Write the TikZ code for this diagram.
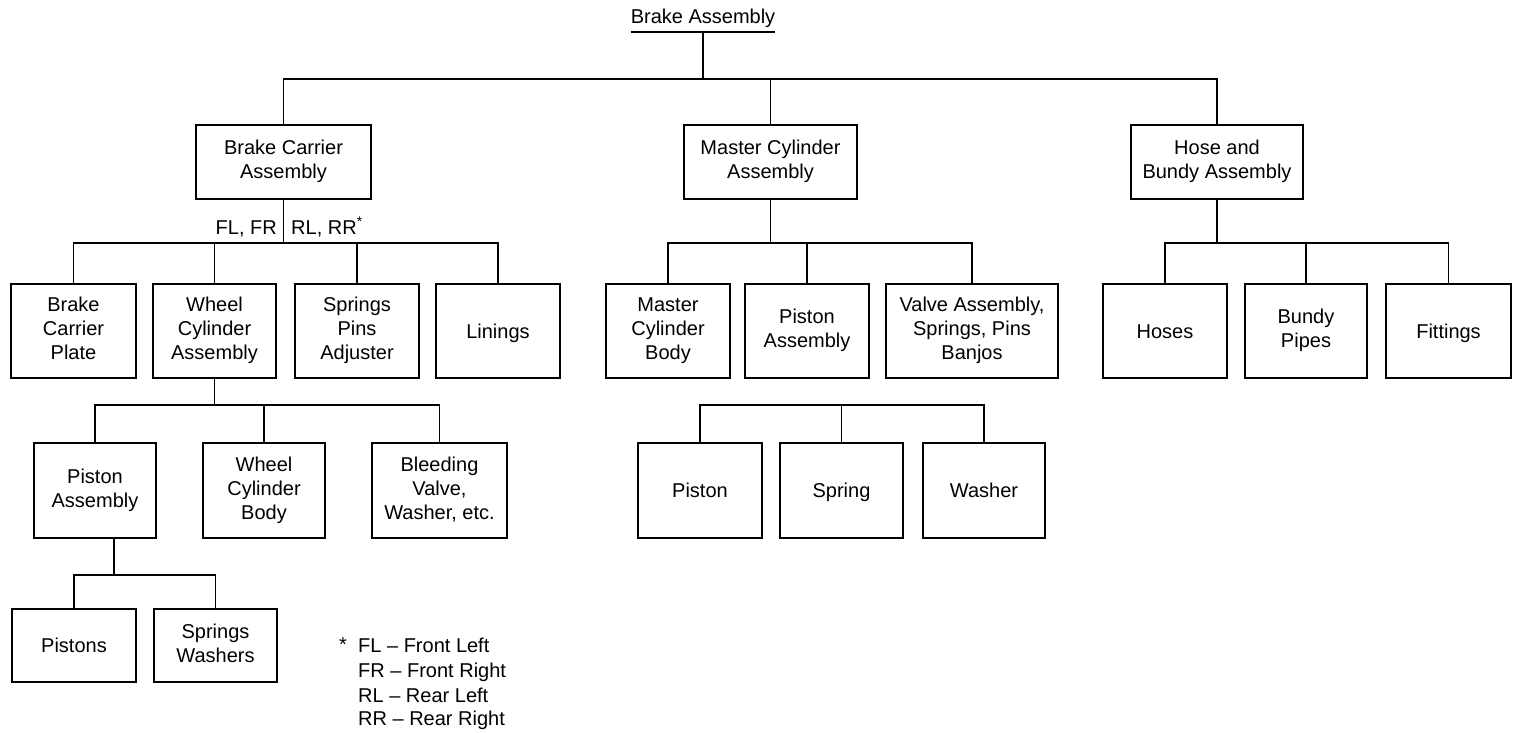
\documentclass[tikz,border=0pt]{standalone}
\usepackage{fontspec}
\setmainfont{Liberation Sans}
% invisible strut centred on the capital height, so all box texts sit alike
\newcommand\partstrut{\rule[-4.6pt]{0pt}{23.6pt}}
\begin{document}
\begin{tikzpicture}[x=1pt,y=-1pt,
  every node/.style={font=\fontsize{20}{24}\selectfont},
  part/.style={draw, line width=2pt, align=center, inner sep=0pt,
    execute at begin node=\partstrut, execute at end node=\partstrut},
  bw/.style={minimum width=#1pt},
  lvA/.style={part, minimum height=74pt},
  lvB/.style={part, minimum height=94pt},
  lvC/.style={part, minimum height=95pt},
  lvD/.style={part, minimum height=73pt},
  conn/.style={line width=1.5pt},
  lbl/.style={inner sep=0pt}]
\useasboundingbox (0,0) rectangle (1519,733);

% bus levels
\coordinate (ul)   at (0,32);
\coordinate (bus0) at (0,79);
\coordinate (bus1) at (0,243);
\coordinate (bus2) at (0,405);
\coordinate (bus3) at (0,575);

% root
\node[lbl, anchor=base] (title) at (703,24) {Brake Assembly};

% first level
\node[lvA, bw=175] (bca) at (283.5,162) {Brake Carrier\\Assembly};
\node[lvA, bw=173] (mca) at (770.5,162) {Master Cylinder\\Assembly};
\node[lvA, bw=172] (hba) at (1217,162)  {Hose and\\Bundy Assembly};

% second level
\node[lvB, bw=125] (bcp) at (73.5,331)  {Brake\\Carrier\\Plate};
\node[lvB, bw=123] (wca) at (214.5,331) {Wheel\\Cylinder\\Assembly};
\node[lvB, bw=124] (spa) at (357,331)   {Springs\\Pins\\Adjuster};
\node[lvB, bw=124] (lin) at (498,331)   {Linings};
\node[lvB, bw=124] (mcb) at (668,331)   {Master\\Cylinder\\Body};
\node[lvB, bw=124] (mpa) at (807,331)   {Piston\\Assembly};
\node[lvB, bw=172] (vas) at (972,331)   {Valve Assembly,\\Springs, Pins\\Banjos};
\node[lvB, bw=124] (hos) at (1165,331)  {Hoses};
\node[lvB, bw=122] (bun) at (1306,331)  {Bundy\\Pipes};
\node[lvB, bw=125] (fit) at (1448.5,331){Fittings};

% third level
\node[lvC, bw=122] (wpa) at (95,490.5)    {Piston\\Assembly};
\node[lvC, bw=122] (wcb) at (264,490.5)   {Wheel\\Cylinder\\Body};
\node[lvC, bw=135] (blv) at (439.5,490.5) {Bleeding\\Valve,\\Washer, etc.};
\node[lvC, bw=124] (pis) at (700,490.5)   {Piston};
\node[lvC, bw=123] (spr) at (841.5,490.5) {Spring};
\node[lvC, bw=122] (was) at (984,490.5)   {Washer};

% fourth level
\node[lvD, bw=124] (pst) at (74,645.5)    {Pistons};
\node[lvD, bw=123] (spw) at (215.5,645.5) {Springs\\Washers};

% side labels
\node[lbl, anchor=base east] (flfr) at (277,234) {FL, FR};
\node[lbl, anchor=base west] (rlrr) at (291,234) {RL, RR\textsuperscript{*}};

% key
\node[lbl] (star) at (343,645) {*};
\node[lbl, anchor=base west] (k1) at (358,652) {FL -- Front Left};
\node[lbl, anchor=base west] (k2) at (358,677) {FR -- Front Right};
\node[lbl, anchor=base west] (k3) at (358,702) {RL -- Rear Left};
\node[lbl, anchor=base west] (k4) at (358,725) {RR -- Rear Right};

% root connectors
\draw[conn] (title.west |- ul) -- (title.east |- ul);
\draw[conn] (title.south |- ul) -- (title.south |- bus0);
\draw[conn] (bca.north) -- (bca.north |- bus0) -- (hba.north |- bus0) -- (hba.north);
\draw[conn] (mca.north) -- (mca.north |- bus0);

% brake carrier group
\draw[conn] (bca.south) -- (bca.south |- bus1);
\draw[conn] (bcp.north) -- (bcp.north |- bus1) -- (lin.north |- bus1) -- (lin.north);
\draw[conn] (wca.north) -- (wca.north |- bus1);
\draw[conn] (spa.north) -- (spa.north |- bus1);

% master cylinder group
\draw[conn] (mca.south) -- (mca.south |- bus1);
\draw[conn] (mcb.north) -- (mcb.north |- bus1) -- (vas.north |- bus1) -- (vas.north);
\draw[conn] (mpa.north) -- (mpa.north |- bus1);

% hose group
\draw[conn] (hba.south) -- (hba.south |- bus1);
\draw[conn] (hos.north) -- (hos.north |- bus1) -- (fit.north |- bus1) -- (fit.north);
\draw[conn] (bun.north) -- (bun.north |- bus1);

% wheel cylinder group
\draw[conn] (wca.south) -- (wca.south |- bus2);
\draw[conn] (wpa.north) -- (wpa.north |- bus2) -- (blv.north |- bus2) -- (blv.north);
\draw[conn] (wcb.north) -- (wcb.north |- bus2);

% piston / spring / washer group
\draw[conn] (pis.north) -- (pis.north |- bus2) -- (was.north |- bus2) -- (was.north);
\draw[conn] (spr.north) -- (spr.north |- bus2);

% piston assembly group
\draw[conn] ([xshift=19pt]wpa.south) -- ([xshift=19pt]wpa.south |- bus3);
\draw[conn] (pst.north) -- (pst.north |- bus3) -- (spw.north |- bus3) -- (spw.north);
\end{tikzpicture}
\end{document}
